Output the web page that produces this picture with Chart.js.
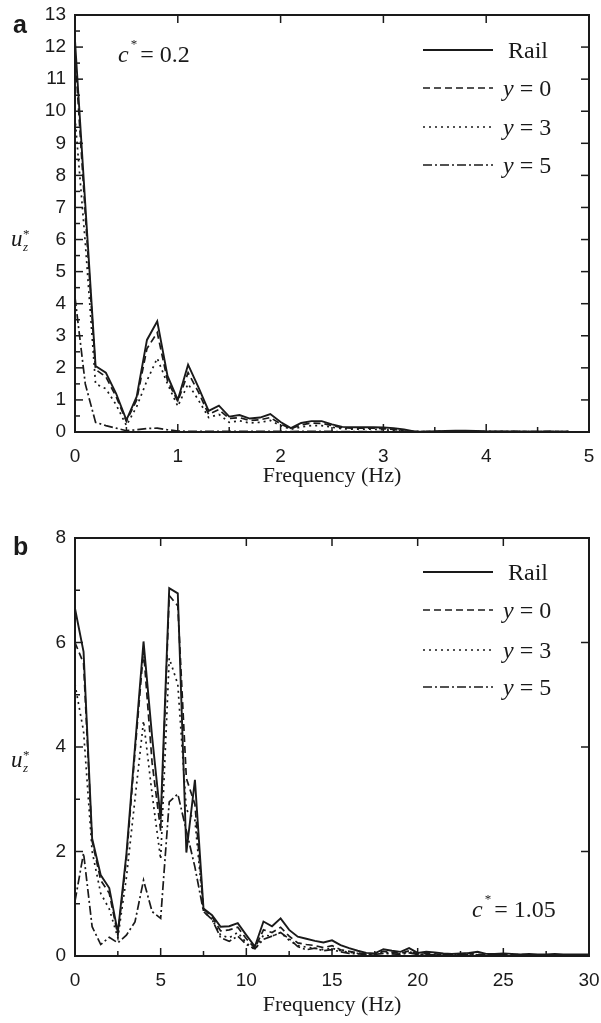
<!DOCTYPE html>
<html>
<head>
<meta charset="utf-8">
<script src="https://cdn.jsdelivr.net/npm/chart.js@4.4.1/dist/chart.umd.min.js"></script>
<style>
  html, body { margin: 0; padding: 0; background: #fff; }
  #wrap { position: relative; width: 601px; height: 1023px; background: #fff; }
  canvas { position: absolute; left: 0; }
  #cA { top: 0; }
  #cB { top: 500px; }
</style>
</head>
<body>
<div id="wrap">
  <canvas id="cA" width="601" height="500"></canvas>
  <canvas id="cB" width="601" height="523"></canvas>
</div>
<script>
// Panel (a): c* = 0.2, spectrum 0–5 Hz
const freqA = [0.0,0.1,0.2,0.3,0.4,0.5,0.6,0.7,0.8,0.9,1.0,1.1,1.2,1.3,1.4,1.5,1.6,1.7,1.8,1.9,
  2.0,2.1,2.2,2.3,2.4,2.5,2.6,2.7,2.8,2.9,3.0,3.1,3.2,3.3,3.4,3.5,3.6,3.7,3.8,3.9,
  4.0,4.1,4.2,4.3,4.4,4.5,4.6,4.7,4.8];
const railA = [12.2,7.1,2.06,1.85,1.2,0.37,1.1,2.87,3.45,1.75,1.0,2.1,1.4,0.66,0.82,0.48,0.53,0.42,0.45,0.56,
  0.31,0.12,0.28,0.34,0.34,0.24,0.16,0.15,0.15,0.15,0.14,0.12,0.08,0.02,0.01,0.02,0.03,0.04,0.04,0.03,
  0.02,0.02,0.02,0.02,0.01,0.01,0.02,0.01,0.01];
const y0A = [11.8,6.8,1.95,1.72,1.1,0.33,1.0,2.6,3.1,1.6,0.95,1.85,1.25,0.55,0.7,0.42,0.45,0.36,0.38,0.45,
  0.25,0.1,0.22,0.28,0.27,0.2,0.13,0.12,0.12,0.12,0.1,0.08,0.03,0.01,0.01,0.02,0.03,0.03,0.02,0.02,
  0.01,0.01,0.01,0.01,0.01,0.01,0.01,0.01,0.01];
const y3A = [9.8,5.9,1.5,1.35,0.85,0.2,0.79,1.6,2.3,1.5,0.8,1.5,1.0,0.45,0.55,0.3,0.35,0.28,0.3,0.36,
  0.2,0.08,0.16,0.2,0.2,0.15,0.1,0.09,0.09,0.09,0.07,0.05,0.02,0.01,0.01,0.01,0.02,0.02,0.02,0.01,
  0.01,0.01,0.01,0.01,0.01,0.01,0.01,0.01,0.01];
const y5A = [4.2,1.5,0.3,0.2,0.12,0.04,0.07,0.11,0.12,0.07,0.03,0.02,0.02,0.02,0.02,0.02,0.02,0.02,0.02,0.02,
  0.02,0.01,0.02,0.02,0.02,0.02,0.01,0.01,0.01,0.01,0.01,0.01,0.01,0.01,0.01,0.01,0.01,0.01,0.01,0.01,
  0.01,0.01,0.01,0.01,0.01,0.01,0.01,0.01,0.01];

// Panel (b): c* = 1.05, spectrum 0–30 Hz
const freqB = [0,0.5,1,1.5,2,2.5,3,3.5,4,4.5,5,5.5,6,6.5,7,7.5,8,8.5,9,9.5,
  10,10.5,11,11.5,12,12.5,13,13.5,14,14.5,15,15.5,16,16.5,17,17.5,18,18.5,19,19.5,
  20,20.5,21,21.5,22,22.5,23,23.5,24,24.5,25,25.5,26,26.5,27,27.5,28,28.5,29,29.5,30];
const railB = [6.65,5.82,2.25,1.55,1.3,0.45,1.95,4.0,6.02,4.2,2.62,7.04,6.94,1.98,3.37,0.91,0.78,0.56,0.57,0.63,
  0.4,0.18,0.66,0.57,0.72,0.5,0.37,0.33,0.29,0.26,0.3,0.21,0.15,0.1,0.06,0.05,0.13,0.1,0.08,0.15,
  0.06,0.08,0.07,0.05,0.04,0.05,0.06,0.08,0.04,0.04,0.05,0.04,0.03,0.04,0.03,0.03,0.04,0.03,0.03,0.03,0.03];
const y0B = [6.0,5.6,2.2,1.45,1.2,0.4,1.85,3.9,5.85,3.7,2.4,6.9,6.7,3.4,2.9,0.9,0.75,0.48,0.5,0.55,
  0.33,0.15,0.5,0.45,0.55,0.38,0.25,0.22,0.2,0.16,0.2,0.12,0.09,0.06,0.04,0.04,0.09,0.07,0.05,0.1,
  0.04,0.05,0.04,0.03,0.03,0.04,0.05,0.03,0.03,0.03,0.03,0.02,0.03,0.02,0.02,0.02,0.02,0.02,0.02,0.02,0.02];
const y3B = [5.2,4.3,2.0,1.2,0.9,0.35,1.5,3.0,4.5,3.1,1.85,5.7,5.2,2.8,2.6,0.85,0.7,0.4,0.35,0.45,
  0.25,0.12,0.4,0.38,0.45,0.3,0.2,0.17,0.15,0.12,0.15,0.1,0.07,0.05,0.03,0.03,0.07,0.05,0.04,0.08,
  0.03,0.04,0.03,0.03,0.02,0.03,0.04,0.02,0.02,0.02,0.02,0.02,0.02,0.02,0.02,0.02,0.02,0.02,0.02,0.02,0.02];
const y5B = [1.05,1.97,0.56,0.22,0.36,0.25,0.4,0.65,1.45,0.85,0.72,2.95,3.1,2.4,1.7,0.85,0.7,0.35,0.28,0.38,
  0.22,0.14,0.32,0.38,0.45,0.33,0.18,0.12,0.15,0.1,0.12,0.08,0.05,0.04,0.03,0.03,0.05,0.04,0.03,0.06,
  0.03,0.03,0.02,0.02,0.02,0.02,0.02,0.02,0.02,0.02,0.02,0.02,0.02,0.02,0.02,0.02,0.02,0.02,0.02,0.02,0.02];

const seriesNames = ['Rail', 'y = 0', 'y = 3', 'y = 5'];
const dashes = [[], [7, 4], [2, 4], [9, 3, 2, 3]];

const INK = '#1a1a1a';
const SERIF = '"Liberation Serif", "Times New Roman", serif';
const SANS = '"Liberation Sans", Arial, sans-serif';

function pts(xs, ys) { return xs.map((x, i) => ({ x: x, y: ys[i] })); }

function makeDatasets(xs, list) {
  return list.map((ys, i) => ({
    label: seriesNames[i],
    data: pts(xs, ys),
    borderColor: INK,
    borderWidth: i === 0 ? 1.9 : 1.7,
    borderDash: dashes[i],
    pointRadius: 0,
    tension: 0,
    fill: false
  }));
}

// Draws one line of mixed italic / upright serif text
function drawRuns(ctx, x, y, runs) {
  let cx = x;
  runs.forEach(r => {
    ctx.font = (r.italic ? 'italic ' : '') + r.size + 'px ' + SERIF;
    ctx.fillText(r.t, cx, y + (r.dy || 0));
    cx += ctx.measureText(r.t).width + (r.gap || 0);
  });
}

function framePlugin(cfg) {
  return {
    id: 'frame_' + cfg.id,
    afterDraw(chart) {
      const ctx = chart.ctx;
      const a = chart.chartArea;
      const xs = chart.scales.x, ys = chart.scales.y;
      ctx.save();
      ctx.strokeStyle = INK;
      ctx.fillStyle = INK;
      ctx.lineWidth = 2;
      ctx.setLineDash([]);
      ctx.strokeRect(a.left, a.top, a.right - a.left, a.bottom - a.top);

      ctx.lineWidth = 1.5;
      const tick = (x1, y1, x2, y2) => { ctx.beginPath(); ctx.moveTo(x1, y1); ctx.lineTo(x2, y2); ctx.stroke(); };
      cfg.bottomTicks.forEach(t => { const p = xs.getPixelForValue(t.v); tick(p, a.bottom, p, a.bottom - t.len); });
      cfg.topTicks.forEach(v => { const p = xs.getPixelForValue(v); tick(p, a.top, p, a.top + 8); });
      cfg.leftTicks.forEach(t => { const p = ys.getPixelForValue(t.v); tick(a.left, p, a.left + t.len, p); });
      cfg.rightTicks.forEach(v => { const p = ys.getPixelForValue(v); tick(a.right, p, a.right - 8, p); });

      // legend
      chart.data.datasets.forEach((ds, i) => {
        const ly = cfg.legendY[i];
        ctx.lineWidth = ds.borderWidth;
        ctx.setLineDash(ds.borderDash);
        tick(423, ly, 493, ly);
        ctx.setLineDash([]);
        ctx.textBaseline = 'alphabetic';
        ctx.textAlign = 'left';
        if (i === 0) {
          drawRuns(ctx, 508, ly + 8, [{ t: 'Rail', size: 24 }]);
        } else {
          drawRuns(ctx, 503, ly + 8, [
            { t: 'y', size: 24, italic: true },
            { t: ' = ' + ds.label.split('= ')[1], size: 24 }
          ]);
        }
      });

      // damping annotation
      ctx.textAlign = 'left';
      drawRuns(ctx, cfg.cx, cfg.cy, [
        { t: 'c', size: 24, italic: true, gap: 2 },
        { t: '*', size: 13, dy: -14, gap: 3 },
        { t: '= ' + cfg.cval, size: 24 }
      ]);

      // panel letter
      ctx.font = 'bold 25px ' + SANS;
      ctx.fillText(cfg.letter, 13, cfg.letterY);

      // y-axis title u*_z
      drawRuns(ctx, 11, cfg.uY, [{ t: 'u', size: 23, italic: true }]);
      ctx.font = 'italic 13px ' + SERIF;
      ctx.fillText('z', 23, cfg.uY + 5);
      ctx.font = '13px ' + SERIF;
      ctx.fillText('*', 23, cfg.uY - 8);

      // x-axis title
      ctx.font = '22px ' + SERIF;
      ctx.textAlign = 'center';
      ctx.textBaseline = 'middle';
      ctx.fillText('Frequency (Hz)', (a.left + a.right) / 2, cfg.titleY);
      ctx.restore();
    }
  };
}

function makeChart(canvasId, xs, list, opt) {
  return new Chart(document.getElementById(canvasId), {
    type: 'line',
    data: { datasets: makeDatasets(xs, list) },
    options: {
      responsive: false,
      animation: false,
      devicePixelRatio: 1,
      layout: { padding: { top: opt.top, right: 12, left: 0, bottom: 0 } },
      plugins: { legend: { display: false }, tooltip: { enabled: false } },
      scales: {
        x: {
          type: 'linear', min: 0, max: opt.xmax,
          grid: { display: false, drawTicks: false },
          border: { display: false },
          ticks: { stepSize: opt.xstep, padding: 13, color: INK, font: { family: SANS, size: 19 } },
          afterFit(s) { s.height = opt.xh; s.paddingLeft = 0; s.paddingRight = 0; }
        },
        y: {
          type: 'linear', min: 0, max: opt.ymax,
          grid: { display: false, drawTicks: false },
          border: { display: false },
          ticks: { stepSize: opt.ystep, padding: 9, color: INK, font: { family: SANS, size: 19 } },
          afterFit(s) { s.width = 75; s.paddingTop = 0; s.paddingBottom = 0; }
        }
      }
    },
    plugins: [framePlugin(opt.frame)]
  });
}

// tick lists for the inner tick marks
const ticksA = {
  id: 'a', letter: 'a', letterY: 33, uY: 246, titleY: 476,
  cx: 118, cy: 62, cval: '0.2',
  legendY: [50, 88, 127, 165],
  bottomTicks: [0.5,1,1.5,2,2.5,3,3.5,4,4.5].map(v => ({ v: v, len: Number.isInteger(v) ? 8 : 5 })),
  topTicks: [1, 2, 3, 4],
  leftTicks: [0.5,1,1.5,2,2.5,3,3.5,4,4.5,5,5.5,6,6.5,7,7.5,8,8.5,9,9.5,10,10.5,11,11.5,12,12.5].map(v => ({ v: v, len: Number.isInteger(v) ? 8 : 5 })),
  rightTicks: [1,2,3,4,5,6,7,8,9,10,11,12]
};
const ticksB = {
  id: 'b', letter: 'b', letterY: 55, uY: 267, titleY: 505,
  cx: 472, cy: 417, cval: '1.05',
  legendY: [72, 110, 150, 187],
  bottomTicks: [2.5,5,7.5,10,12.5,15,17.5,20,22.5,25,27.5].map(v => ({ v: v, len: v % 5 === 0 ? 8 : 5 })),
  topTicks: [5, 10, 15, 20, 25],
  leftTicks: [1,2,3,4,5,6,7].map(v => ({ v: v, len: v % 2 === 0 ? 8 : 5 })),
  rightTicks: [2, 4, 6]
};

makeChart('cA', freqA, [railA, y0A, y3A, y5A],
  { top: 15, xh: 68, xmax: 5, xstep: 1, ymax: 13, ystep: 1, frame: ticksA });
makeChart('cB', freqB, [railB, y0B, y3B, y5B],
  { top: 38, xh: 67, xmax: 30, xstep: 5, ymax: 8, ystep: 2, frame: ticksB });
</script>
</body>
</html>
